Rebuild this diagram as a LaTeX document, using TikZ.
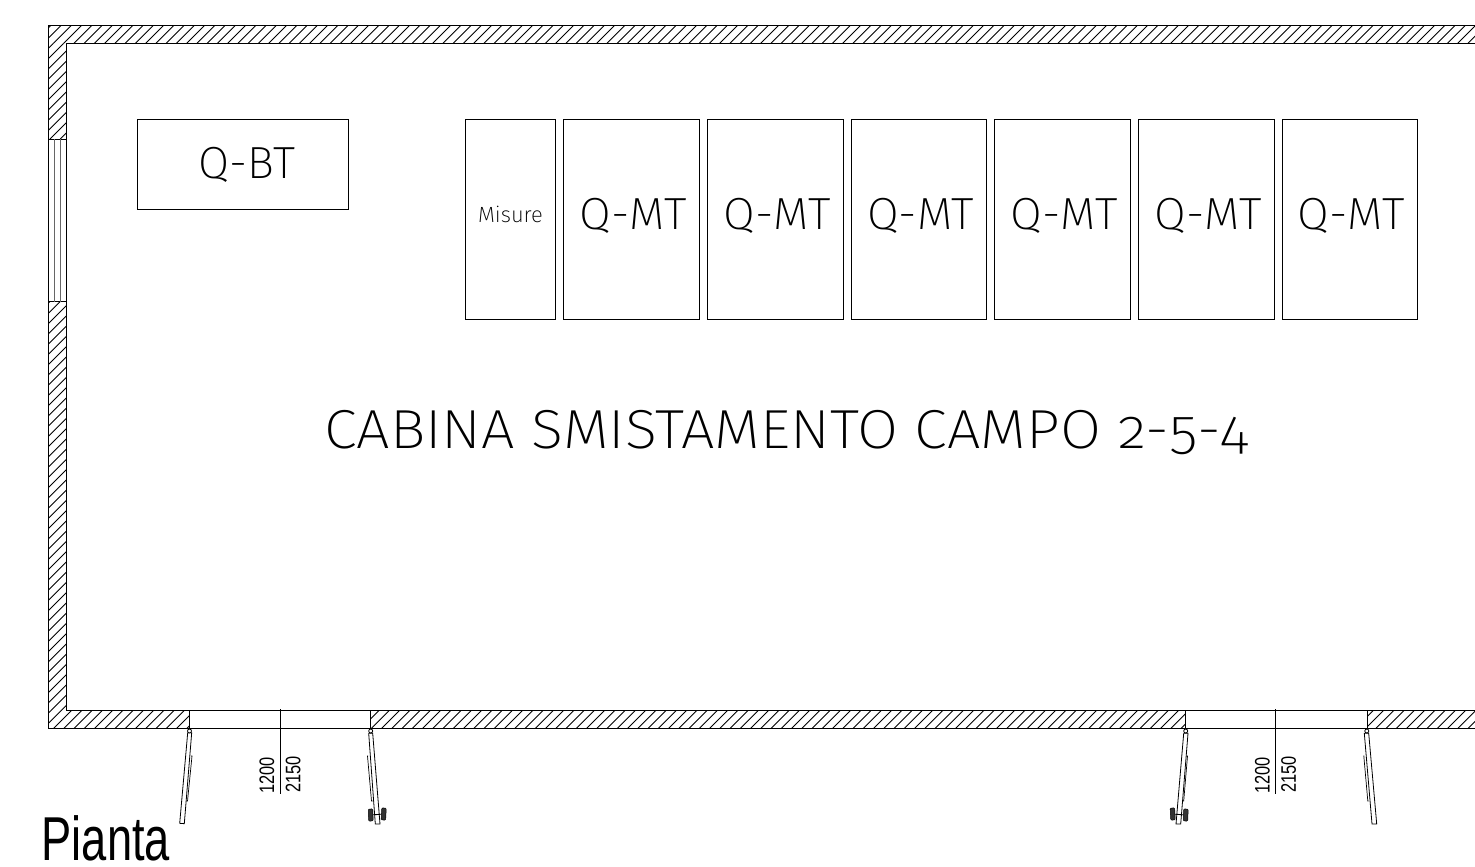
\documentclass[tikz,border=0pt]{standalone}
\usepackage{fontspec}
\setmainfont{Liberation Sans}
\newfontfamily\thinfont[Numbers=OldStyle]{Fira Sans ExtraLight}
\newfontfamily\narrowfont{Liberation Sans}
\tikzset{
  wall/.style={line width=0.9pt,black},
  hatch/.style={line width=0.8pt,black},
  thinl/.style={line width=0.9pt,black},
  greyl/.style={line width=1pt,black!60},
  panel/.style={draw=black,line width=0.8pt,inner sep=0pt},
  paneltext/.style={inner sep=0pt,anchor=base,font=\thinfont\fontsize{45}{45}\selectfont},
  leaf/.style={draw=black,line width=0.8pt,fill=white},
  wheel/.style={draw=black,fill=black!80,line width=0.5pt,rounded corners=1pt,minimum width=4.5pt,minimum height=12pt,inner sep=0pt},
  dimtext/.style={inner sep=0pt,rotate=90,font=\narrowfont\fontsize{21}{21}\selectfont,xscale=0.78}
}
\newcommand{\hatchrange}[5]{% x0 y0 x1 y1 phase
  \begin{scope}
    \clip (#1,#2) rectangle (#3,#4);
    \pgfmathsetmacro{\st}{#5+10.25*floor((#1+#2-#5)/10.25)}
    \pgfmathsetmacro{\sn}{\st+10.25}
    \pgfmathsetmacro{\en}{#3+#4+10.25}
    \foreach \c in {\st,\sn,...,\en} \draw[hatch] (\c-#2,#2) -- (\c-#4,#4);
  \end{scope}}
\begin{document}
\begin{tikzpicture}[x=1pt,y=-1pt]
\useasboundingbox (0,0) rectangle (1475,867);
\fill[white] (0,0) rectangle (1475,867);
% hatching
\hatchrange{48.5}{25.5}{1475}{43.5}{86.5}
\hatchrange{48.5}{43.5}{66.8}{139}{86.5}
\hatchrange{48.5}{301.5}{66.8}{710.7}{3}
\hatchrange{48.5}{710.7}{189}{728.3}{3}
\hatchrange{370.7}{710.7}{1185.3}{728.3}{3}
\hatchrange{1367.3}{710.7}{1475}{728.3}{3}
% wall outline
\draw[wall] (1475,25.5) -- (48.5,25.5) -- (48.5,728.3) -- (1475,728.3);
\draw[wall] (1475,43.5) -- (66.8,43.5) -- (66.8,710.7) -- (1475,710.7);
\draw[thinl] (189,710.7) -- (189,728.3);
\draw[thinl] (370.7,710.7) -- (370.7,728.3);
\draw[thinl] (1185.3,710.7) -- (1185.3,728.3);
\draw[thinl] (1367.3,710.7) -- (1367.3,728.3);
% window
\draw[thinl] (48.5,139) -- (66.8,139);
\draw[thinl] (48.5,301.5) -- (66.8,301.5);
\draw[greyl] (54.7,139) -- (54.7,301.5);
\draw[greyl] (60.7,139) -- (60.7,301.5);
% panels
\node[panel,minimum width=211pt,minimum height=90.2pt,anchor=north west] (qbt) at (137,118.8) {};
\node[paneltext] (qbttext) at (247,178.5) {Q-BT};
\node[panel,minimum width=90pt,minimum height=200.2pt,anchor=north west] (mis) at (465,118.8) {};
\node[inner sep=0pt,anchor=base,font=\thinfont\fontsize{22}{22}\selectfont] (mistext) at (510.5,222.5) {Misure};
\foreach \i/\x/\w in {1/563/136,2/707/136,3/851/135,4/994/136,5/1138/136,6/1281.5/135.5}{
  \node[panel,minimum width=\w pt,minimum height=200.2pt,anchor=north west] (qmt\i) at (\x,118.8) {};
  \node[paneltext,xscale=1.02] (qmttext\i) at (\x+\w/2+2.2,229) {Q-MT};
}
% title
\node[inner sep=0pt,anchor=base,xscale=1.08,font=\thinfont\fontsize{55}{55}\selectfont] (title) at (786,448) {CABINA SMISTAMENTO CAMPO 2-5-4};
% door 1
\draw[thinl] (280.3,709) -- (280.3,794);
\node[dimtext,anchor=south] (d1a) at (274.5,775.5) {1200};
\node[dimtext,anchor=north] (d1b) at (285.5,774.5) {2150};
\draw[leaf] (187.7,732.7) -- (191.7,732.7) -- (184.3,823.7) -- (179.7,823.3) -- cycle;
\draw[thinl,line width=0.7pt] (191,756) -- (192,756) -- (187.5,801) -- (186.7,801);
\draw[leaf] (189.5,731) circle (2);
\draw[leaf] (368.7,733.3) -- (372.7,733.3) -- (380,824) -- (375.3,824) -- cycle;
\draw[thinl,line width=0.7pt] (368,756) -- (367.5,756) -- (371.5,801) -- (372.5,801);
\draw[leaf] (370.7,731) circle (2);
\node[wheel,rotate=2] (w1) at (370.7,815) {};
\node[wheel,rotate=-3] (w2) at (383.7,814) {};
\draw[thinl] (w1) -- (w2);
% door 2
\draw[thinl] (1275.7,709) -- (1275.7,794);
\node[dimtext,anchor=south] (d2a) at (1269.9,775.5) {1200};
\node[dimtext,anchor=north] (d2b) at (1280.9,774.5) {2150};
\draw[leaf] (1183.7,733.3) -- (1188,733.3) -- (1180.7,824) -- (1176,824) -- cycle;
\draw[thinl,line width=0.7pt] (1186.7,756) -- (1187.5,756) -- (1183.7,801) -- (1183,801);
\draw[leaf] (1185.7,731) circle (2);
\node[wheel,rotate=3] (w3) at (1172.7,814) {};
\node[wheel,rotate=-2] (w4) at (1185.7,815) {};
\draw[thinl] (w3) -- (w4);
\draw[leaf] (1364.3,733.3) -- (1368.7,733.3) -- (1376.7,824) -- (1372,824) -- cycle;
\draw[thinl,line width=0.7pt] (1364.3,756) -- (1363.8,756) -- (1367.8,801) -- (1368.7,801);
\draw[leaf] (1366.8,731) circle (2);
% caption
\node[inner sep=0pt,anchor=base west,font=\narrowfont\fontsize{62}{62}\selectfont,xscale=0.73] (cap) at (41.5,860) {Pianta};
\end{tikzpicture}
\end{document}
